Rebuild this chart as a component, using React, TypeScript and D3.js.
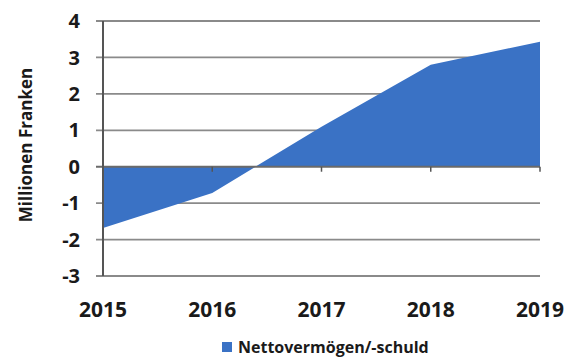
import React from "react";
import * as d3 from "d3";

const years = ["2015", "2016", "2017", "2018", "2019"];
const values = [-1.68, -0.72, 1.1, 2.8, 3.43];
const yTicks = [4, 3, 2, 1, 0, -1, -2, -3];
const seriesName = "Nettovermögen/-schuld";
const yTitle = "Millionen Franken";

const W = 573;
const H = 358;
const FONT = "'Open Sans', 'Liberation Sans', sans-serif";

export default function App() {
  const x = d3.scalePoint<string>().domain(years).range([103, 540]);
  const y = d3.scaleLinear().domain([-3, 4]).range([276, 21]);
  const data = years.map((yr, i) => ({ yr, v: values[i] }));
  const area = d3
    .area<{ yr: string; v: number }>()
    .x((d) => x(d.yr) as number)
    .y0(y(0))
    .y1((d) => y(d.v));
  const left = x.range()[0];
  const right = x.range()[1];
  return (
    <svg
      width={W}
      height={H}
      style={{ position: "absolute", left: 0, top: 0, background: "#fff" }}
      fontFamily={FONT}
    >
      <rect width={W} height={H} fill="#fff" />
      {yTicks
        .filter((t) => t !== 0)
        .map((t) => (
          <line
            key={t}
            x1={left - 7}
            x2={right}
            y1={y(t)}
            y2={y(t)}
            stroke="#8a8a8a"
            strokeWidth={1.8}
          />
        ))}
      <path d={area(data) || ""} fill="#3a72c5" />
      <line x1={left - 7} x2={right} y1={y(0)} y2={y(0)} stroke="#6a6a6a" strokeWidth={2} />
      {years.map((yr) => (
        <line
          key={yr}
          x1={x(yr)}
          x2={x(yr)}
          y1={y(0)}
          y2={y(0) + 5}
          stroke="#555"
          strokeWidth={1.5}
        />
      ))}
      <line x1={left} x2={left} y1={y(4)} y2={y(-3)} stroke="#555" strokeWidth={2} />
      {yTicks.map((t) => (
        <text
          key={t}
          x={80}
          y={y(t)}
          dy="0.36em"
          textAnchor="end"
          fontSize={20}
          fontWeight={700}
          fill="#1a1a1a"
        >
          {t}
        </text>
      ))}
      {years.map((yr) => (
        <text
          key={yr}
          x={x(yr)}
          y={317}
          textAnchor="middle"
          fontSize={21}
          fontWeight={700}
          fill="#1a1a1a"
        >
          {yr}
        </text>
      ))}
      <text
        transform={`translate(32,145) rotate(-90)`}
        textAnchor="middle"
        fontSize={17}
        fontWeight={700}
        fill="#1a1a1a"
      >
        {yTitle}
      </text>
      <rect x={222} y={342} width={10} height={10} fill="#3a72c5" />
      <text x={238} y={353} fontSize={16} fontWeight={700} fill="#1a1a1a">
        {seriesName}
      </text>
    </svg>
  );
}
